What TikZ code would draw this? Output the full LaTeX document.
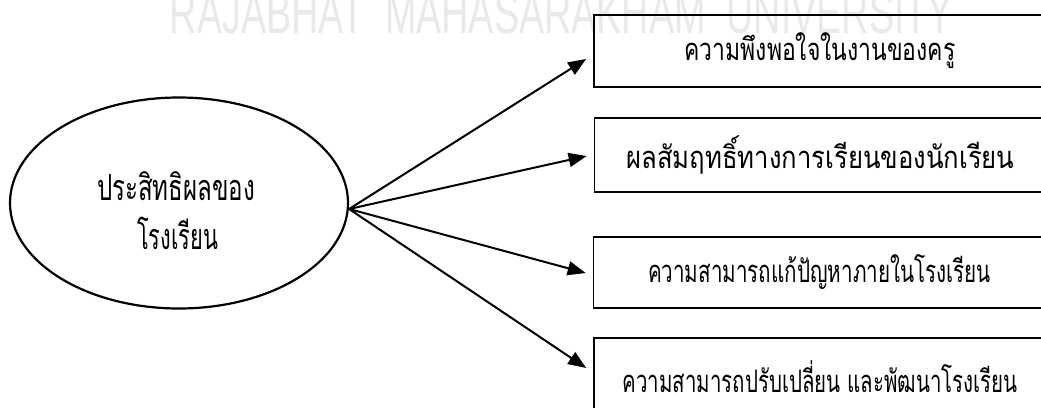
\documentclass[tikz,border=0pt]{standalone}
\usepackage{fontspec}
\usepackage{graphicx}
\newfontfamily\thai[Script=Thai]{Loma}
\newfontfamily\wmfont{Liberation Sans}
\usetikzlibrary{shapes.geometric,arrows.meta,calc}
\definecolor{wm}{RGB}{233,233,233}
\begin{document}
\begin{tikzpicture}[x=1pt,y=-1pt,
  box/.style={draw, line width=1.7pt, minimum width=452pt, inner sep=0pt,
    font=\thai\fontsize{31}{34}\selectfont},
  elltext/.style={anchor=base, inner sep=0pt, font=\thai\fontsize{36}{40}\selectfont},
  arr/.style={line width=2pt, -{Triangle[length=18pt,width=14pt]}},
]
\useasboundingbox (0,0) rectangle (1041,407);
\fill[white] (0,0) rectangle (1041,407);
\node[anchor=base, text=wm, inner sep=0pt] (wmark) at (561.5,33)
  {\resizebox{783pt}{\height}{\wmfont\fontsize{58}{58}\selectfont RAJABHAT\ \ MAHASARAKHAM\ \ UNIVERSITY}};

\node[ellipse, draw, line width=2.2pt, minimum width=338pt, minimum height=211pt, inner sep=0pt] (e) at (179,203) {};
\node[elltext] (et1) at (176,200) {\resizebox{158pt}{\height}{ประสิทธิผลของ}};
\node[elltext] (et2) at (177.5,249) {\resizebox{81pt}{\height}{โรงเรียน}};

\node[box, minimum height=72pt] (b1) at (820,51) {\raisebox{-7pt}{\resizebox{271pt}{\height}{ความพึงพอใจในงานของครู}}};
\node[box, minimum height=74pt] (b2) at (820.5,155) {\resizebox{388pt}{\height}{ผลสัมฤทธิ์ทางการเรียนของนักเรียน}};
\node[box, minimum height=71pt] (b3) at (819.5,272.5) {\resizebox{343pt}{\height}{ความสามารถแก้ปัญหาภายในโรงเรียน}};
\node[box, minimum height=78pt] (b4) at (820,377) {\resizebox{395pt}{\height}{ความสามารถปรับเปลี่ยน และพัฒนาโรงเรียน}};

\coordinate (o) at ($(e.east)+(0,6)$);
\draw[arr] (o) -- ($(b1.west)+(-7,8)$);
\draw[arr] (o) -- ($(b2.west)+(-7,1)$);
\draw[arr] (o) -- ($(b3.west)+(-7,0.5)$);
\draw[arr] (o) -- ($(b4.west)+(-7,-9)$);
\end{tikzpicture}
\end{document}
